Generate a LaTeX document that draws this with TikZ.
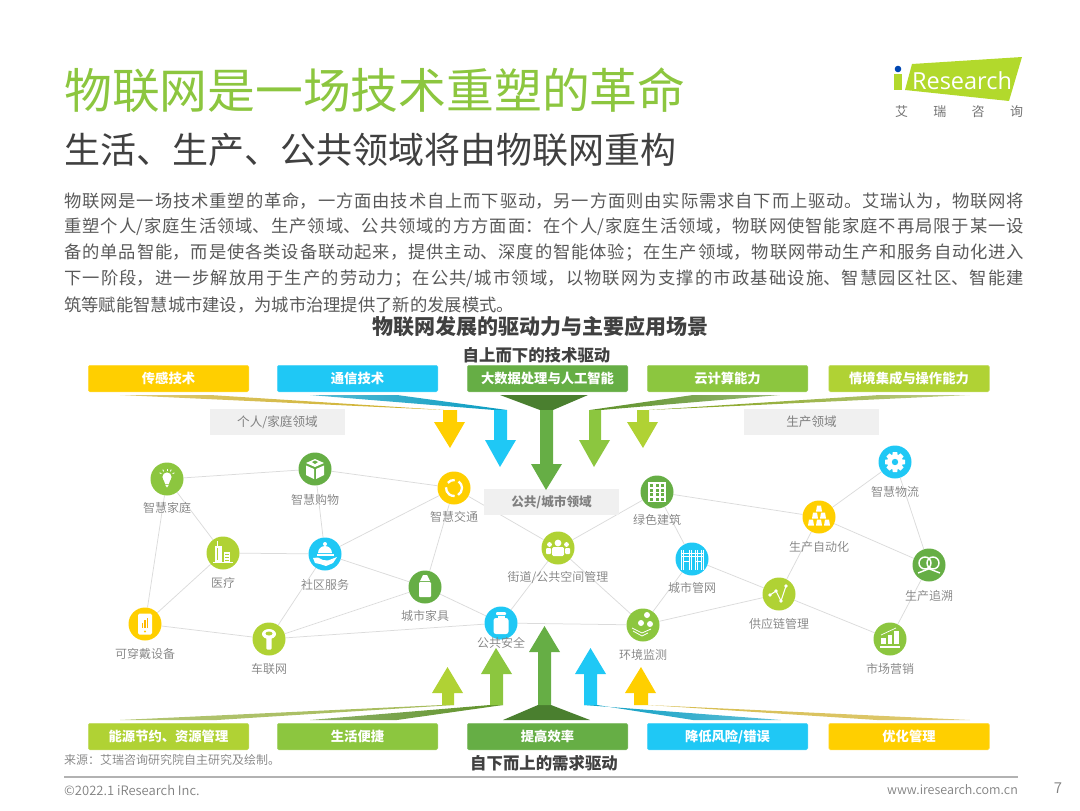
\documentclass[tikz,border=0pt]{standalone}
\usepackage{fontspec}
\setmainfont{Noto Sans CJK SC}
\newfontfamily\lightcjk{Noto Sans CJK SC DemiLight}
\newfontfamily\logofont{Open Sans}
\XeTeXlinebreaklocale "zh"
\XeTeXlinebreakskip=0pt plus 3pt
\usetikzlibrary{backgrounds}
\definecolor{cY}{HTML}{FFCF00}
\definecolor{cB}{HTML}{1FC8F5}
\definecolor{cG}{HTML}{66AE45}
\definecolor{cL}{HTML}{8CC63F}
\definecolor{cO}{HTML}{B0D234}
\definecolor{dY}{HTML}{C49F00}
\definecolor{dB}{HTML}{0A9DC2}
\definecolor{dG}{HTML}{4A7F2F}
\definecolor{dL}{HTML}{5E9128}
\definecolor{dO}{HTML}{7F9E14}
\definecolor{txt}{HTML}{404040}
\definecolor{lbl}{HTML}{808080}
\tikzset{
  x=1pt,y=-1pt,
  ico/.style={circle,inner sep=0pt,minimum size=33pt,draw=none},
  ilabel/.style={font=\lightcjk\fontsize{12}{12}\selectfont,text=lbl,inner sep=0pt},
  tagbox/.style={rounded corners=1.5pt,draw=#1!75!white,line width=.5pt,fill=#1,text=white,font=\bfseries\fontsize{13.3}{13.3}\selectfont,inner sep=0pt,minimum width=160.5pt,minimum height=26.5pt},
  areabox/.style={fill=black!6,text=lbl,inner sep=0pt,minimum width=135pt,minimum height=26pt,font=\fontsize{12.6}{12.6}\selectfont},
  link/.style={draw=black!14,line width=.75pt},
  bodyline/.style={anchor=west,inner sep=0pt,text=black!65,font=\fontsize{17.3}{17.3}\selectfont},
  head/.style={text=txt,font=\bfseries,inner sep=0pt},
}
\newcommand{\ndot}[7]{% name,x,y,colour,label,labelx,labely
  \node[ico,fill=#4] (#1) at (#2,#3) {};
  \node[ilabel] (#1t) at (#6,#7) {#5};
}
\newcommand{\ic}[2]{\begin{scope}[shift={(#1.center)}]#2\end{scope}}
\newcommand{\jline}[1]{\parbox{960pt}{\parfillskip=0pt\relax\tolerance=9999 #1}}
\begin{document}
\begin{tikzpicture}
\useasboundingbox (0,0) rectangle (1080,811);
% title block
\node[anchor=west,inner sep=0pt,text=cL,font=\fontsize{47.8}{48}\selectfont] (title) at (64,90) {物联网是一场技术重塑的革命};
\node[anchor=west,inner sep=0pt,text=txt,font=\fontsize{36}{36}\selectfont] (subtitle) at (64,150) {生活、生产、公共领域将由物联网重构};
\node[bodyline] (b1) at (64,201) {\jline{物联网是一场技术重塑的革命，一方面由技术自上而下驱动，另一方面则由实际需求自下而上驱动。艾瑞认为，物联网将}};
\node[bodyline] (b2) at (64,227) {\jline{重塑个人/家庭生活领域、生产领域、公共领域的方方面面：在个人/家庭生活领域，物联网使智能家庭不再局限于某一设}};
\node[bodyline] (b3) at (64,253) {\jline{备的单品智能，而是使各类设备联动起来，提供主动、深度的智能体验；在生产领域，物联网带动生产和服务自动化进入}};
\node[bodyline] (b4) at (64,279) {\jline{下一阶段，进一步解放用于生产的劳动力；在公共/城市领域，以物联网为支撑的市政基础设施、智慧园区社区、智能建}};
\node[bodyline] (b5) at (64,305) {筑等赋能智慧城市建设，为城市治理提供了新的发展模式。};
\node[head,font=\bfseries\fontsize{21}{21}\selectfont] (h0) at (540,327) {物联网发展的驱动力与主要应用场景};
\node[head,font=\bfseries\fontsize{16.4}{16.4}\selectfont] (h1) at (536.5,355) {自上而下的技术驱动};
\node[head,font=\bfseries\fontsize{16.4}{16.4}\selectfont] (h2) at (544,763) {自下而上的需求驱动};
% logo
\fill[cO!85!lime] (912,64) -- (1022,57) -- (1009,101) -- (905,90) -- cycle;
\fill[blue!60!cyan!70!black] (898,69) circle[radius=3.3pt];
\fill[cO!85!lime] (894,74) rectangle (902,90);
\node[inner sep=0pt,text=white,font=\logofont\fontsize{23.5}{23.5}\selectfont] (logo) at (962,81) {Research};
\node[inner sep=0pt,text=black!55,font=\fontsize{13}{13}\selectfont] (logoc) at (959,112) {\makebox[128pt][s]{艾\hfill 瑞\hfill 咨\hfill 询}};
% top tags
\node[tagbox=cY] (t1) at (168.5,378.5) {传感技术};
\node[tagbox=cB] (t2) at (357.5,378.5) {通信技术};
\node[tagbox=cG] (t3) at (547.5,378.5) {大数据处理与人工智能};
\node[tagbox=cL] (t4) at (727.5,378.5) {云计算能力};
\node[tagbox=cO] (t5) at (909,378.5) {情境集成与操作能力};
% bottom tags
\node[tagbox=cO] (u1) at (168.5,736.5) {能源节约、资源管理};
\node[tagbox=cL] (u2) at (357.5,736.5) {生活便捷};
\node[tagbox=cG] (u3) at (547.5,736.5) {提高效率};
\node[tagbox=cB] (u4) at (727.5,736.5) {降低风险/错误};
\node[tagbox=cY] (u5) at (909,736.5) {优化管理};
% area labels
\node[areabox] (a1) at (277.5,422) {个人/家庭领域};
\node[areabox] (a2) at (811.5,422) {生产领域};
\node[areabox,font=\bfseries\fontsize{12.6}{12.6}\selectfont] (a3) at (551.5,502) {公共/城市领域};
% top wedges
\shade[left color=dY!55!white,middle color=dY,right color=dY!85!white] (120,395) -- (210,395) -- (444,410) -- cycle;
\shade[left color=dB!70!white,middle color=dB,right color=dB] (310,395) -- (397,395) -- (507,410) -- (494,410) -- cycle;
\fill[dG] (500,395) -- (588,395) -- (553,410) -- (540,410) -- cycle;
\shade[left color=dL,middle color=dL,right color=dL!65!white] (590,410) -- (693,395) -- (780,395) -- (601,410) -- cycle;
\shade[left color=dO,middle color=dO,right color=dO!50!white] (649,410) -- (880,395) -- (970,395) -- cycle;
% top arrows
\fill[cY] (443,410) -- (457,410) -- (457,422) -- (465,422) -- (450,448) -- (434,422) -- (443,422) -- cycle;
\fill[cB] (494,410) -- (507,410) -- (507,440) -- (516,440) -- (500,467) -- (485,440) -- (494,440) -- cycle;
\fill[cG] (540,410) -- (553,410) -- (553,464) -- (562,464) -- (546,490) -- (531,464) -- (540,464) -- cycle;
\fill[cL] (589,410) -- (601,410) -- (601,440) -- (610,440) -- (594,467) -- (579,440) -- (589,440) -- cycle;
\fill[cO] (637,410) -- (649,410) -- (649,422) -- (658,422) -- (643,448) -- (627,422) -- (637,422) -- cycle;
% bottom wedges
\shade[left color=dO!60!white,middle color=dO,right color=dO!70!white] (120,720) -- (217,720) -- (454,705) -- (442,705) -- cycle;
\shade[left color=dL!70!white,middle color=dL,right color=dL] (310,720) -- (397,720) -- (503,705) -- (490,705) -- cycle;
\fill[dG] (503,720) -- (590,720) -- (551,705) -- (538,705) -- cycle;
\shade[left color=dB,middle color=dB,right color=dB!65!white] (584,705) -- (597,705) -- (693,720) -- (781,720) -- cycle;
\shade[left color=dY!70!white,middle color=dY,right color=dY!55!white] (648,705) -- (877,720) -- (970,720) -- cycle;
% bottom arrows
\fill[cO] (442,705) -- (454,705) -- (454,693) -- (463,693) -- (447.5,667) -- (432,693) -- (442,693) -- cycle;
\fill[cL] (490,705) -- (503,705) -- (503,674) -- (512,674) -- (496,648) -- (481,674) -- (490,674) -- cycle;
\fill[cG] (538,705) -- (551,705) -- (551,652) -- (560,652) -- (544.5,626) -- (529,652) -- (538,652) -- cycle;
\fill[cB] (584,705) -- (597,705) -- (597,674) -- (606,674) -- (590.5,648) -- (575,674) -- (584,674) -- cycle;
\fill[cY] (634,705) -- (648,705) -- (648,693) -- (656,693) -- (641,667) -- (625,693) -- (634,693) -- cycle;
% network nodes
\ndot{jiating}{167}{479}{cL}{智慧家庭}{167}{508}
\ndot{gouwu}{315}{469}{cG}{智慧购物}{315}{500}
\ndot{jiaotong}{454}{488}{cY}{智慧交通}{454}{517}
\ndot{yiliao}{223}{553}{cO}{医疗}{223}{583}
\ndot{shequ}{325}{554}{cB}{社区服务}{325}{585}
\ndot{jiaju}{425}{587}{cG}{城市家具}{425}{616}
\ndot{chuandai}{145}{624}{cY}{可穿戴设备}{145}{654}
\ndot{chelian}{269}{639}{cO}{车联网}{269}{669}
\ndot{anquan}{501}{623}{cB}{公共安全}{501}{643}
\ndot{jiedao}{558}{548}{cO}{街道/公共空间管理}{558}{577}
\ndot{lvse}{657}{492}{cG}{绿色建筑}{657}{520}
\ndot{guanwang}{692}{559}{cB}{城市管网}{692}{588}
\ndot{huanjing}{643}{625}{cL}{环境监测}{643}{655}
\ndot{gongying}{779}{594}{cO}{供应链管理}{779}{624}
\ndot{zidong}{819}{517}{cY}{生产自动化}{819}{547}
\ndot{wuliu}{895}{462}{cB}{智慧物流}{895}{492}
\ndot{zhuisu}{929}{565}{cG}{生产追溯}{929}{596}
\ndot{yingxiao}{890}{639}{cL}{市场营销}{890}{669}
\begin{pgfonlayer}{background}
\draw[link] (jiating) -- (gouwu);
\draw[link] (gouwu) -- (jiaotong);
\draw[link] (jiating) -- (yiliao);
\draw[link] (jiating) -- (chuandai);
\draw[link] (gouwu) -- (shequ);
\draw[link] (jiaotong) -- (shequ);
\draw[link] (jiaotong) -- (jiaju);
\draw[link] (jiaotong) -- (jiedao);
\draw[link] (yiliao) -- (shequ);
\draw[link] (yiliao) -- (chuandai);
\draw[link] (shequ) -- (jiaju);
\draw[link] (shequ) -- (chelian);
\draw[link] (chuandai) -- (chelian);
\draw[link] (chelian) -- (jiaju);
\draw[link] (chelian) -- (anquan);
\draw[link] (jiaju) -- (anquan);
\draw[link] (anquan) -- (jiedao);
\draw[link] (anquan) -- (huanjing);
\draw[link] (jiedao) -- (lvse);
\draw[link] (jiedao) -- (huanjing);
\draw[link] (lvse) -- (guanwang);
\draw[link] (lvse) -- (zidong);
\draw[link] (guanwang) -- (huanjing);
\draw[link] (guanwang) -- (gongying);
\draw[link] (huanjing) -- (gongying);
\draw[link] (gongying) -- (zidong);
\draw[link] (gongying) -- (yingxiao);
\draw[link] (zidong) -- (wuliu);
\draw[link] (zidong) -- (zhuisu);
\draw[link] (wuliu) -- (zhuisu);
\draw[link] (zhuisu) -- (yingxiao);
\end{pgfonlayer}
% icons
\ic{jiating}{
  \fill[white] (0,-2) circle[radius=4.6pt];
  \fill[white] (-3.6,0) -- (3.6,0) -- (1.8,5) -- (-1.8,5) -- cycle;
  \fill[white] (-1.8,5.8) -- (1.8,5.8) -- (0,8.5) -- cycle;
  \foreach \a in {-150,-120,-90,-60,-30}{\draw[white,line width=.8pt,shift={(0,-2)}] (\a:6.5) -- (\a:8.5);}
}
\ic{gouwu}{
  \fill[white] (0,-10) -- (9,-6) -- (0,-2) -- (-9,-6) -- cycle;
  \fill[cG] (-3,-7) -- (0,-8.5) -- (3,-7) -- (0,-5) -- cycle;
  \fill[white] (-9,-3.5) -- (-1,0) -- (-1,10) -- (-9,6) -- cycle;
  \fill[white] (9,-3.5) -- (1,0) -- (1,10) -- (9,6) -- cycle;
}
\ic{jiaotong}{
  \draw[white,line width=2.3pt] (-60:8pt) arc[start angle=-60,end angle=55,radius=8pt];
  \draw[white,line width=2.3pt] (85:8pt) arc[start angle=85,end angle=140,radius=8pt];
  \draw[white,line width=2.3pt] (175:8pt) arc[start angle=175,end angle=275,radius=8pt];
}
\ic{yiliao}{
  \draw[white,line width=.7pt] (-10,9.5) -- (10,9.5);
  \draw[white,line width=.9pt] (-6,-12) -- (-6,-7);
  \fill[white] (-8,-7) rectangle (-1,8.5);
  \fill[cO] (-6.5,-5.5) rectangle (-4.8,7);
  \fill[white] (1,-1) rectangle (7,8.5);
  \foreach \v in {1,4,7}{\fill[cO] (2.2,\v) rectangle (5.8,\v+1);}
}
\ic{shequ}{
  \fill[white] (0,-10) circle[radius=2pt];
  \fill[white] (-7,-1) arc[start angle=180,end angle=0,radius=7pt] -- cycle;
  \fill[white] (-8.5,0) rectangle (8.5,2);
  \fill[white] (-12,4) -- (-7,3.5) -- (-2,6) -- (3,6.5) -- (12,3) -- (8,9) -- (1,12) -- (-5,10) -- (-10,9) -- cycle;
}
\ic{jiaju}{
  \fill[white] (-2,-12) -- (2,-12) -- (5,-6) -- (-5,-6) -- cycle;
  \fill[white,rounded corners=1pt] (-6,-5) rectangle (6,10);
}
\ic{chuandai}{
  \fill[white,rounded corners=1.5pt] (-7,-10.5) rectangle (7,10.5);
  \fill[cY!70!orange] (-3.5,-1) rectangle (-2,4);
  \fill[cY!70!orange] (-1,-4) rectangle (.5,4);
  \fill[cY!70!orange] (1.5,-6) rectangle (3,4);
  \fill[cY] (0,7.5) circle[radius=1.2pt];
}
\ic{chelian}{
  \fill[white] (0,-5) ellipse[x radius=7pt,y radius=5pt];
  \fill[cO] (0,-5.5) ellipse[x radius=3.5pt,y radius=2pt];
  \fill[white,rounded corners=1pt] (-2.7,-2) rectangle (2.7,10.5);
}
\ic{anquan}{
  \fill[white,rounded corners=1pt] (-5,-11) rectangle (5,-8);
  \fill[white] (-3.5,-7.5) rectangle (3.5,-5);
  \fill[white,rounded corners=2.5pt] (-7.5,-5) rectangle (7.5,11);
}
\ic{jiedao}{
  \fill[white] (0,-5) circle[radius=3.4pt];
  \fill[white,rounded corners=1.5pt] (-6,-1) rectangle (6,8);
  \fill[white] (-8.5,-3.5) circle[radius=2.4pt];
  \fill[white,rounded corners=1pt] (-12,0) rectangle (-7,6);
  \fill[white] (8.5,-3.5) circle[radius=2.4pt];
  \fill[white,rounded corners=1pt] (7,0) rectangle (12,6);
}
\ic{lvse}{
  \fill[white] (-9,-10) rectangle (9,10);
  \foreach \i in {-7,-1.5,4}{\foreach \j in {-8,-3.5,1,5.5}{\fill[cG] (\i,\j) rectangle (\i+3,\j+3);}}
}
\ic{guanwang}{
  \draw[white,line width=.6pt] (-11,-6) -- (11,-6) (-11,-3) -- (11,-3);
  \foreach \v in {-11,-9,-3,-1,3,5,9,11}{\draw[white,line width=.6pt] (\v,-9) -- (\v,11);}
  \draw[white,line width=.6pt] (-9,2) -- (-3,2) (3,2) -- (9,2);
}
\ic{huanjing}{
  \fill[white] (4,-10) circle[radius=3pt];
  \fill[white] (-2,-2) circle[radius=3pt];
  \fill[white] (7,-1) circle[radius=3pt];
  \draw[white,line width=.8pt] (-11,3) -- (-1,8) -- (8,4) (-10,6) -- (-1,11) -- (5,8);
}
\ic{gongying}{
  \draw[white,line width=1pt] (-9,1) -- (-3,-3) -- (2,7) -- (7,-8);
  \foreach \px/\py in {-9/1,-3/-3,2/7,7/-8}{\fill[white] (\px,\py) circle[radius=1.9pt];}
}
\ic{zidong}{
  \foreach \px/\py in {0/-8.5,-4/-1.5,4/-1.5,-8/5.5,0/5.5,8/5.5}{
    \fill[white] (\px-2,\py-3) -- (\px+2,\py-3) -- (\px+3,\py+3) -- (\px-3,\py+3) -- cycle;
  }
}
\ic{wuliu}{
  \foreach \a in {0,45,...,315}{\fill[white,rotate=\a] (-2.2,-10) -- (2.2,-10) -- (3,-5) -- (-3,-5) -- cycle;}
  \fill[white] (0,0) circle[radius=7.5pt];
  \fill[cB] (0,0) circle[radius=3.2pt];
}
\ic{zhuisu}{
  \draw[white,line width=1.4pt] (-4,-2) circle[radius=6pt];
  \draw[white,line width=1.4pt] (4,-2) circle[radius=6pt];
  \draw[white,line width=1.4pt] (-11,8) -- (2,3);
  \draw[white,line width=1.4pt] (11,8) -- (-2,3);
}
\ic{yingxiao}{
  \fill[white] (-9,-1) rectangle (-4.5,5);
  \fill[white] (-2.5,-4) rectangle (2,5);
  \fill[white] (4,-8) rectangle (8.5,5);
  \fill[white] (-10,7) rectangle (10,9);
  \draw[white,line width=.7pt] (-9,-4) -- (6,-11);
}
% footer
\node[anchor=west,inner sep=0pt,text=lbl,font=\lightcjk\fontsize{12}{12}\selectfont] (src) at (64,760) {来源：艾瑞咨询研究院自主研究及绘制。};
\coordinate (fl) at (64,777);
\coordinate (fr) at (1018,777);
\draw[black!30,line width=1.2pt] (fl) -- (fr);
\node[anchor=west,inner sep=0pt,text=lbl,font=\lightcjk\fontsize{13}{13}\selectfont] (copy) at (64,790) {©2022.1 iResearch Inc.};
\node[anchor=east,inner sep=0pt,text=lbl,font=\lightcjk\fontsize{12.5}{12.5}\selectfont] (web) at (1018,790) {www.iresearch.com.cn};
\node[inner sep=0pt,text=lbl,font=\lightcjk\fontsize{15}{15}\selectfont] (page) at (1058,788) {7};
\end{tikzpicture}
\end{document}
